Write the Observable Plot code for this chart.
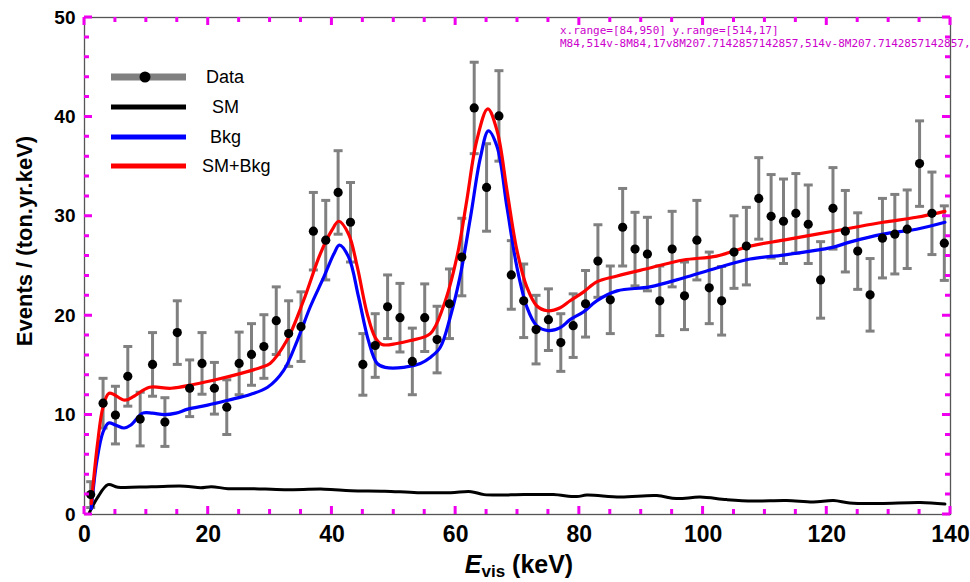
<!DOCTYPE html>
<html><head><meta charset="utf-8">
<script src="https://cdn.jsdelivr.net/npm/d3@7"></script>
<script src="https://cdn.jsdelivr.net/npm/@observablehq/plot@0.6"></script>
<style>
body{margin:0;background:#fff;}
#chart{position:relative;width:970px;height:582px;}
#dbg{position:absolute;left:560px;top:24px;font:11px monospace;color:#c0c;white-space:pre;}
</style></head><body><div id="chart"></div><div id="dbg"></div>
<script>
// ---- data ----
const energy = [1,3,5,7,9,11,13,15,17,19,21,23,25,27,29,31,33,35,37,39,41,43,45,47,49,51,53,55,57,59,61,63,65,67,69,71,73,75,77,79,81,83,85,87,89,91,93,95,97,99,101,103,105,107,109,111,113,115,117,119,121,123,125,127,129,131,133,135,137,139];
const events = [2.0,11.2,10.0,13.9,9.6,15.1,9.3,18.3,12.7,15.2,12.7,10.8,15.2,16.1,16.9,19.5,18.2,18.9,28.5,27.6,32.4,29.4,15.1,17.0,20.9,19.8,15.4,19.8,17.6,21.2,25.9,40.9,32.9,40.1,24.1,21.5,18.6,19.6,17.3,19.0,21.2,25.5,21.6,28.9,26.7,26.2,21.5,26.7,22.0,27.6,22.8,21.5,26.4,27.0,31.8,30.0,29.5,30.3,29.2,23.6,30.8,28.5,26.5,22.1,27.8,28.2,28.7,35.3,30.3,27.3];
const errors = [1.3,2.5,2.9,3.0,2.7,3.2,2.45,3.2,2.85,3.1,2.6,2.75,3.15,3.1,3.2,3.4,3.3,3.5,3.9,4.0,4.2,4.0,3.1,3.2,3.2,3.45,3.35,3.4,3.35,3.5,3.9,4.6,4.4,4.55,3.45,3.7,3.45,3.1,2.9,3.2,3.35,3.65,3.4,3.9,3.7,3.7,3.5,3.8,3.4,4.0,3.6,3.45,3.65,3.9,4.1,4.2,4.25,4.0,3.95,3.85,4.1,4.1,3.85,3.65,4.0,4.0,3.95,4.3,4.15,3.75];

const bkgE = [1.1,2.0,3.0,3.9,5.0,6.4,7.5,9.4,11.0,12.9,14.8,16.7,19.9,23.2,26.9,29.6,32.2,34.4,36.5,38.7,40.3,41.2,42.7,44.3,45.9,47.3,48.6,51.6,54.3,55.9,57.5,59.1,60.7,62.4,64.0,65.3,66.7,68.3,69.9,71.5,73.1,75.0,76.9,78.5,80.7,82.8,86.1,91.4,96.8,102.2,107.6,113.0,118.4,121.1,123.7,129.1,134.5,139.1];
const bkgV = [0.6,5.4,8.3,9.2,9.0,8.7,9.0,10.2,10.2,10.05,10.2,10.6,11.0,11.5,12.1,12.8,14.5,17.5,20.9,23.9,26.2,27.1,25.9,21.9,17.5,15.2,14.8,14.8,15.2,15.8,16.8,19.8,23.9,29.9,35.9,38.6,37.0,30.9,24.9,20.9,19.0,18.5,18.8,19.6,20.4,21.5,22.5,22.9,23.8,24.8,25.7,26.1,26.6,26.9,27.4,28.2,28.7,29.4];

const totE = [1.1,2.1,3.0,4.0,6.5,8.0,10.5,14.0,17.8,21.5,25.3,28.5,30.0,32.7,35.4,38.1,40.0,41.1,42.7,44.1,45.7,47.0,48.1,50.5,52.7,55.9,58.0,60.2,61.8,63.4,65.2,66.7,68.3,69.9,71.5,73.1,74.8,76.9,78.5,80.7,82.8,86.1,91.4,96.8,102.2,107.6,113.0,118.4,123.7,129.1,134.5,139.1];
const totV = [1.1,7.1,10.8,12.2,11.5,11.9,12.8,12.7,13.1,13.6,14.2,14.8,15.2,17.5,21.5,26.2,28.6,29.5,28.2,24.9,20.2,17.8,17.1,17.2,17.5,18.2,20.9,25.9,31.6,37.6,40.8,38.6,32.6,26.6,22.9,21.0,20.5,20.8,21.5,22.4,23.4,24.0,24.8,25.6,26.0,27.0,27.6,28.2,28.8,29.4,29.9,30.5];

const smE = [0.8,2.1,3.8,5.4,10.8,16.2,18.8,20.5,23.2,26.9,32.3,38.8,43.1,48.5,53.8,59.2,62.5,64.6,71.1,75.8,79.6,81.2,86.6,92.5,95.7,99.5,103.8,108.1,113.5,117.8,121.1,123.7,128.6,135.1,139.1];
const smV = [0.2,1.7,3.0,2.75,2.8,2.85,2.7,2.8,2.6,2.6,2.5,2.55,2.4,2.35,2.2,2.2,2.3,2.0,2.0,2.0,1.8,1.95,1.75,1.9,1.6,1.75,1.5,1.35,1.4,1.25,1.4,1.15,1.1,1.2,1.05];

const xMajor = [0,20,40,60,80,100,120,140];
const xMinor = [5,10,15,25,30,35,45,50,55,65,70,75,85,90,95,105,110,115,125,130,135];
const yMajor = [0,10,20,30,40,50];
const yMinor = [2,4,6,8,12,14,16,18,22,24,26,28,32,34,36,38,42,44,46,48];

const legendLabels = ["Data","SM","Bkg","SM+Bkg"];
const legendColors = ["#808080","#000000","#0000ff","#ff0000"];

const points = energy.map((e,i)=>({e, v: events[i], lo: events[i]-errors[i], hi: events[i]+errors[i]}));
const bkg = bkgE.map((e,i)=>({e, v: bkgV[i]}));
const tot = totE.map((e,i)=>({e, v: totV[i]}));
const sm = smE.map((e,i)=>({e, v: smV[i]}));

const W = 970, H = 582, ML = 84, MR = 20, MT = 17, MB = 68;
const cap = {draw(ctx){ ctx.moveTo(-4.5,0); ctx.lineTo(4.5,0); }};
const narrow = "'Liberation Sans Narrow', 'Liberation Sans', Arial, sans-serif";
const sans = "'Liberation Sans', Arial, sans-serif";

const plot = Plot.plot({
  width: W, height: H,
  marginLeft: ML, marginRight: MR, marginTop: MT, marginBottom: MB,
  style: {fontFamily: sans, fontSize: "18px", background: "#fff", overflow: "visible"},
  x: {domain: [0,140]},
  y: {domain: [0,50]},
  marks: [
    Plot.frame({stroke: "#555", strokeWidth: 1.3}),
    Plot.axisX(xMajor, {anchor: "bottom", tickSize: 0, tickPadding: 11, fontFamily: narrow, fontWeight: "bold", fontSize: 23, label: null}),
    Plot.axisY(yMajor, {anchor: "left", tickSize: 0, tickPadding: 9, fontFamily: sans, fontWeight: "bold", fontSize: 19, label: null}),
    Plot.text(["Events / (ton.yr.keV)"], {frameAnchor: "left", textAnchor: "middle", dx: -60, dy: -25, rotate: -90, fontSize: 22, fontWeight: "bold", fontFamily: sans, fill: "#000"}),
    Plot.ruleX(points, {x: "e", y1: "lo", y2: "hi", stroke: "#808080", strokeWidth: 3}),
    Plot.dot(points, {x: "e", y: "lo", symbol: cap, stroke: "#808080", strokeWidth: 3, r: 4}),
    Plot.dot(points, {x: "e", y: "hi", symbol: cap, stroke: "#808080", strokeWidth: 3, r: 4}),
    Plot.line(sm, {x: "e", y: "v", stroke: "#000", strokeWidth: 3, curve: "catmull-rom"}),
    Plot.line(bkg, {x: "e", y: "v", stroke: "#0000ff", strokeWidth: 3.2, curve: "catmull-rom"}),
    Plot.line(tot, {x: "e", y: "v", stroke: "#ff0000", strokeWidth: 3.2, curve: "catmull-rom"}),
    Plot.dot(points, {x: "e", y: "v", r: 4.6, fill: "#000", stroke: "none"})
  ]
});
document.getElementById("chart").appendChild(plot);

const svg = d3.select(plot);
const xs = plot.scale("x"), ys = plot.scale("y");
const [x0, x1] = xs.range, [y0, y1] = ys.range;

const tg = svg.append("g").attr("stroke", "#e0e").attr("stroke-width", 3).attr("fill", "none");
function tickPathX(values, len) {
  return values.map(v => { const px = xs.apply(v);
    return `M${px},${y0}v${-len}M${px},${y1}v${len}`; }).join("");
}
function tickPathY(values, len) {
  return values.map(v => { const py = ys.apply(v);
    return `M${x0},${py}h${len}M${x1},${py}h${-len}`; }).join("");
}
const d = tickPathX(xMajor, 8) + tickPathX(xMinor, 5) + tickPathY(yMajor, 8) + tickPathY(yMinor, 5);
tg.append("path").attr("d", d);
document.getElementById("dbg").textContent = "x.range=" + JSON.stringify(xs.range) + " y.range=" + JSON.stringify(ys.range) + "\n" + d.slice(0, 80);

const xt = svg.append("text")
  .attr("x", (x0 + x1) / 2 + 2).attr("y", 573).attr("text-anchor", "middle")
  .attr("font-family", narrow).attr("font-weight", "bold").attr("font-size", 25).attr("fill", "#000");
xt.append("tspan").attr("font-style", "italic").text("E");
xt.append("tspan").attr("font-size", 17).attr("dy", 4).text("vis");
xt.append("tspan").attr("dy", -4).text(" (keV)");

const lg = svg.append("g").attr("font-family", sans).attr("font-size", 18).attr("fill", "#000").attr("text-anchor", "start");
const rowY = [77, 107, 137, 166];
const textX = [206, 212, 210, 202];
legendLabels.forEach((lab, i) => {
  lg.append("line").attr("x1", 111).attr("x2", 186).attr("y1", rowY[i]).attr("y2", rowY[i])
    .attr("stroke", legendColors[i]).attr("stroke-width", i === 0 ? 7 : 5);
  if (i === 0) lg.append("circle").attr("cx", 145).attr("cy", rowY[i]).attr("r", 5.5).attr("fill", "#000");
  lg.append("text").attr("x", textX[i]).attr("y", rowY[i]).attr("dy", "0.35em").attr("text-anchor", "start").text(lab);
});
</script></body></html>
